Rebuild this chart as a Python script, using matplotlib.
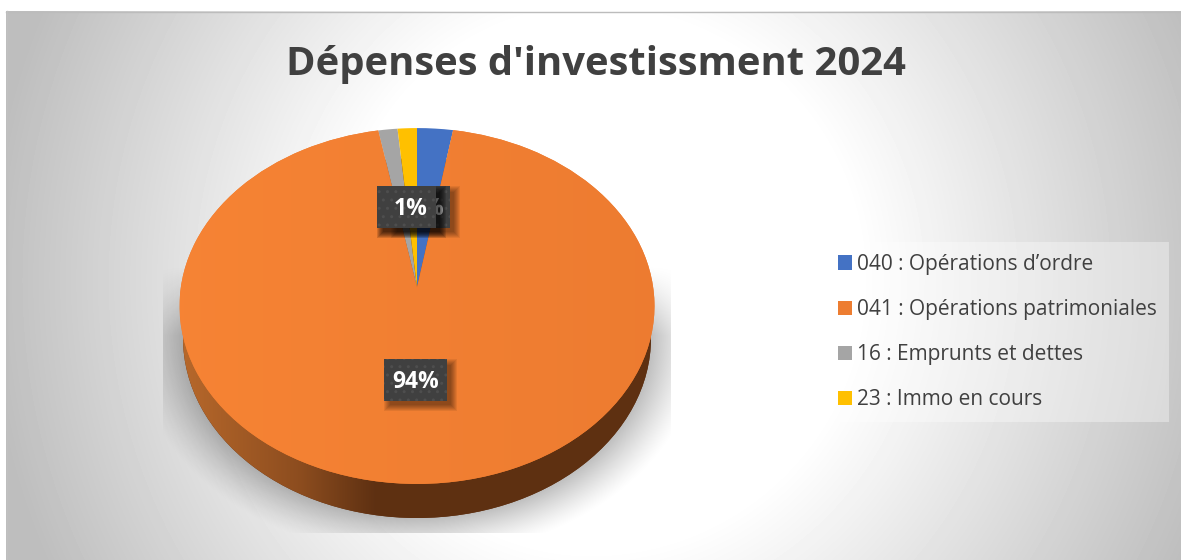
import numpy as np
import matplotlib
matplotlib.use("Agg")
import matplotlib.pyplot as plt
from matplotlib.patches import Ellipse, Rectangle
from matplotlib.transforms import Transform

# -----------------------------------------------------------------------------
# Data
# -----------------------------------------------------------------------------
categories = ["040 : Opérations d’ordre", "041 : Opérations patrimoniales",
              "16 : Emprunts et dettes", "23 : Immo en cours"]
shares = [2.7, 94.4, 1.45, 1.45]
colors = ["#4472C4", "#ED7D31", "#A5A5A5", "#FFC000"]
title = "Dépenses d'investissment 2024"

W, H = 1181, 560
FONT = "Open Sans"
TEXT = "#404040"

# pie geometry in pixels
CX, CY = 417.0, 287.5
K = 0.104
RX, RY = 236.2, 176.0


class PieProjection(Transform):
    """Tilts the unit pie: the far side gets shorter than the near side."""
    input_dims = 2
    output_dims = 2

    def transform_non_affine(self, values):
        values = np.asarray(values, dtype=float)
        w = 1 + K * values[:, 1]
        return np.column_stack([CX + RX * values[:, 0] / w, CY - RY * values[:, 1] / w])


def pixel_axes():
    fig = plt.figure(figsize=(W / 100, H / 100), dpi=100, facecolor="white")
    ax = fig.add_axes([0, 0, 1, 1])
    return fig, ax


def background(ax):
    x, y = np.meshgrid(np.arange(6, W + 1), np.arange(11, H + 1))
    dx = x - 590.0
    r = np.hypot(np.where(dx < 0, dx * 1.08, dx), y - 280.0)
    t = np.clip((r - 270.0) / 380.0, 0, 1)
    grey = 1.0 - t * 0.255
    ax.imshow(grey, extent=(6, W + 1, H + 1, 11), cmap="gray", vmin=0, vmax=1,
              aspect="auto", zorder=0, interpolation="bilinear")
    ax.plot([6, W], [11.5, 11.5], color="#bcbcbc", lw=1, zorder=1)
    ax.plot([6.5, 6.5], [11, H], color="#c0c0c0", lw=1, zorder=1)


def floor_shadow(ax):
    x, y = np.meshgrid(np.arange(163, 671), np.arange(265, 533))
    norm = np.sqrt(((x - CX) / 234.0) ** 2 + ((y - 338.0) / 180.0) ** 2)
    d = (norm - 1) * 210
    alpha = 0.25 * np.clip(1 - d / 46, 0, 1) ** 1.3 * np.clip((y - 265) / 70.0, 0, 1)
    rgba = np.zeros(x.shape + (4,))
    rgba[..., 3] = alpha
    ax.imshow(rgba, extent=(163, 671, 533, 265), aspect="auto", zorder=2)


def pie_side(ax):
    side = Ellipse((CX, 338), 468, 360, transform=ax.transData, fc="#5f3012", lw=0, zorder=3)
    ax.add_patch(side)
    stops_x = [180, 300, 375, 660]
    stops_r = [0.72, 0.55, 0.37, 0.37]
    stops_g = [0.41, 0.30, 0.19, 0.19]
    stops_b = [0.17, 0.12, 0.07, 0.07]
    xs = np.arange(180, 661)
    grad = np.dstack([np.interp(xs, stops_x, c) for c in (stops_r, stops_g, stops_b)])
    im = ax.imshow(grad, extent=(180, 661, 530, 280), aspect="auto", zorder=3.1)
    im.set_clip_path(side)


def label_box(ax, x0, x1, y0, y1, text, text_x):
    # soft shadow out of a few stacked rectangles
    for grow in (5, 4, 3, 2, 1, 0, -1):
        ax.add_patch(Rectangle((x0 + 5 - grow, y0 + 5 - grow), x1 - x0 + 2 * grow, y1 - y0 + 2 * grow,
                               fc="black", alpha=0.07, lw=0, zorder=6))
    ax.add_patch(Rectangle((x0, y0), x1 - x0, y1 - y0, fc="#404040", lw=0, zorder=6))
    ax.add_patch(Rectangle((x0, y0), x1 - x0, y1 - y0, fc="none", ec="#4e4e4e", hatch="..",
                           lw=0, zorder=6))
    ax.text(text_x, (y0 + y1) / 2 + 2, text, color="white", fontsize=16.5, fontweight="bold",
            family=FONT, ha="center", va="center", zorder=6)


fig, ax = pixel_axes()

# --- Pie, drawn from the shares ---
wedges, _ = ax.pie(shares, colors=colors, startangle=90, counterclock=False, radius=1,
                   wedgeprops={"linewidth": 0, "zorder": 4})
tilt = PieProjection() + ax.transData
for w in wedges:
    w.set_transform(tilt)

ax.set_aspect("auto")
background(ax)
floor_shadow(ax)
pie_side(ax)

# slight left to right gradient on the big slice
xs = np.arange(180, 656)
top = np.dstack([np.interp(xs, [180, 655], c) for c in ([0.965, 0.93], [0.515, 0.485], [0.205, 0.19])])
im = ax.imshow(top, extent=(180, 656, 490, 120), aspect="auto", zorder=4.1)
im.set_clip_path(wedges[1])

ax.set_xlim(0, W)
ax.set_ylim(H, 0)
ax.axis("off")

# --- Data labels (the small ones sit on top of each other) ---
pct = [f"{v:.0f}%" for v in shares]
label_box(ax, 391, 450, 186, 228, pct[0], 427)
label_box(ax, 377, 436, 186, 228, pct[3], 411)
label_box(ax, 377, 436, 186, 228, pct[2], 411)
label_box(ax, 384, 447, 359, 401, pct[1], 416)

ax.text(596, 65, title, color=TEXT, fontsize=28.8, fontweight="bold", family=FONT,
        ha="center", va="center", zorder=7)

# --- Legend ---
leg = ax.legend(wedges, categories, loc="center", bbox_to_anchor=(997.5, 332),
                bbox_transform=ax.transData, frameon=True, fancybox=False, framealpha=0.35,
                facecolor="white", edgecolor="none", labelcolor=TEXT,
                prop={"family": FONT, "size": 15}, labelspacing=1.16, handlelength=0.67,
                handleheight=0.67, handletextpad=0.24, borderpad=0.58, borderaxespad=0)
leg.set_zorder(7)

fig.savefig("out.png", dpi=100, facecolor="white")
